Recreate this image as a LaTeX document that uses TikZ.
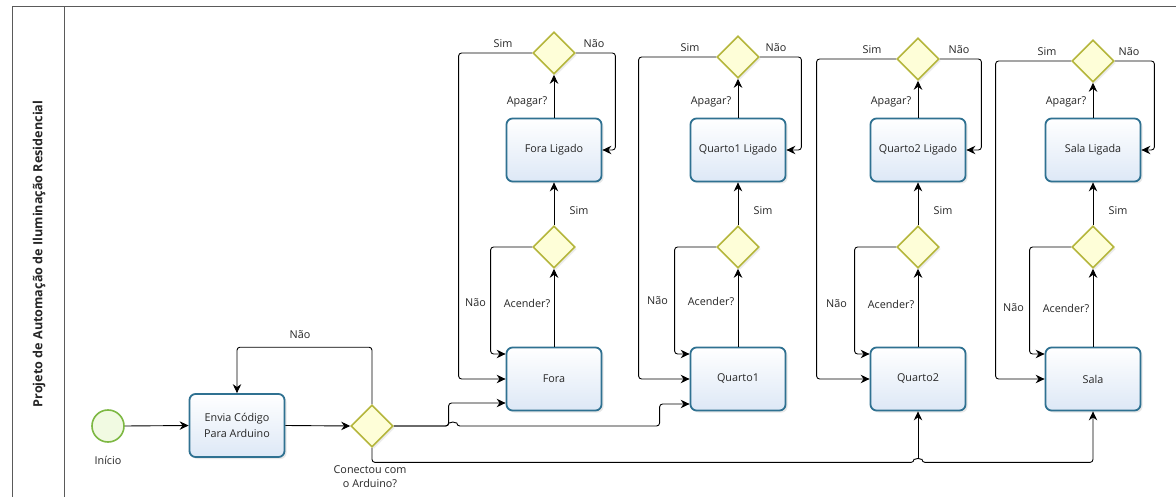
\documentclass[tikz,border=0pt]{standalone}
\usepackage{fontspec}
\setmainfont{Open Sans}
\usetikzlibrary{shapes.geometric,arrows.meta,shadows,calc}
\definecolor{boxline}{HTML}{2F7191}
\definecolor{boxfill}{HTML}{DDE8F6}
\definecolor{dialine}{HTML}{B5B63C}
\definecolor{diafill}{HTML}{FEFED8}
\definecolor{startline}{HTML}{7DB843}
\definecolor{startfill}{HTML}{F1FAE2}
\definecolor{txt}{HTML}{262626}
\definecolor{frame}{HTML}{5A5A5A}
\begin{document}
\begin{tikzpicture}[x=1pt,y=-1pt,
  task/.style={draw=boxline, line width=1.8pt, rounded corners=6pt, top color=white, bottom color=boxfill,
    minimum width=95pt, minimum height=63pt, inner sep=0pt, align=center,
    font=\fontsize{10.8}{15.5}\selectfont, text=txt,
    drop shadow={shadow xshift=2pt,shadow yshift=-2pt,opacity=0.18}},
  gate/.style={diamond, aspect=1, draw=dialine, line width=1.6pt, fill=diafill,
    minimum width=42pt, minimum height=42pt, inner sep=0pt,
    drop shadow={shadow xshift=2pt,shadow yshift=-2pt,opacity=0.15}},
  flow/.style={draw=black, line width=0.9pt, rounded corners=3pt, -{Stealth[length=9pt,width=8.5pt,inset=3pt]}},
  lbl/.style={font=\fontsize{10.8}{14}\selectfont, text=txt, inner sep=0pt, align=center}
]
\useasboundingbox (0,0) rectangle (1176,497);
\fill[white] (0,0) rectangle (1176,497);
% pool frame
\draw[frame, line width=1pt] (12,497) -- (12,7) -- (1176,7);
\draw[frame, line width=1pt] (64,7) -- (64,497);
\node[rotate=90, font=\bfseries\fontsize{12.6}{14}\selectfont, text=txt] (title) at (39,254) {Projeto de Automação de Iluminação Residencial};

% start and first steps
\node[circle, draw=startline, fill=startfill, line width=1.6pt, minimum size=32pt, inner sep=0pt] (start) at (108,426) {};
\node[lbl] (inicio) at (108,460) {Início};
\node[task] (envia) at (237,425.5) {Envia Código\\Para Arduino};
\node[gate] (con) at (372,426) {};
\node[lbl] (conl) at (370,477) {Conectou com\\o Arduino?};
\draw[flow] (start.east) -- (envia.west);
\draw[flow] (envia.east) -- (con.west);
\draw[flow] (con.north) -- ([yshift=57pt]con.north) -| (envia.north);
\node[lbl] (naoC) at (300,335) {Não};

% columns
\foreach \i/\cx/\py/\mt/\lt/\sl/\nr/\ly/\sx/\nx in {
  F/554/53/Fora/Fora Ligado/47/13/303/-51/40,
  Q/738/57/Quarto1/Quarto1 Ligado/51/15/301/-48/38,
  R/918/59/Quarto2/Quarto2 Ligado/53/15/304/-46/41,
  S/1093/61/Sala/Sala Ligada/49/13/308/-46/36} {
  \node[task] (B\i) at (\cx,379) {\mt};
  \node[task] (L\i) at (\cx,150) {\lt};
  \node[gate] (A\i) at (\cx,247) {};
  \node[gate] (P\i) at (\cx,\py) {};
  \draw[flow] (B\i.north) -- (A\i.south);
  \draw[flow] (A\i.north) -- (L\i.south);
  \draw[flow] (L\i.north) -- (P\i.south);
  \draw[flow] (A\i.west) -| ([xshift=-15pt,yshift=25pt]B\i.west) -- ([yshift=25pt]B\i.west);
  \draw[flow] (P\i.west) -| ([xshift=-\sl pt]B\i.west) -- (B\i.west);
  \draw[flow] (P\i.east) -| ([xshift=\nr pt]L\i.east) -- (L\i.east);
  \node[lbl] (s1\i) at (\cx+\sx,\py-9) {Sim};
  \node[lbl] (n1\i) at (\cx+\nx,\py-9) {Não};
  \node[lbl] (ap\i) at (\cx-27,102) {Apagar?};
  \node[lbl] (s2\i) at (\cx+25,211) {Sim};
  \node[lbl] (n2\i) at (\cx-47.5-7.5-\sl/2,\ly) {Não};
  \node[lbl] (ac\i) at (\cx-27,\ly) {Acender?};
}

% from the gateway to the rooms
\draw[flow] (con.east) -| ([xshift=-57pt,yshift=-24pt]BF.west) -- ([yshift=-24pt]BF.west);
\draw[flow] (con.east) -- ([xshift=55pt]con.east) arc[start angle=180,end angle=0,radius=4pt]
  -| ([xshift=-30pt,yshift=-25pt]BQ.west) -- ([yshift=-25pt]BQ.west);
\draw[flow] (con.south) |- ([xshift=-4pt,yshift=-51pt]BR.south) arc[start angle=180,end angle=0,radius=4pt] -| (BS.south);
\draw[flow] ([yshift=-47pt]BR.south) -- (BR.south);
\end{tikzpicture}
\end{document}
